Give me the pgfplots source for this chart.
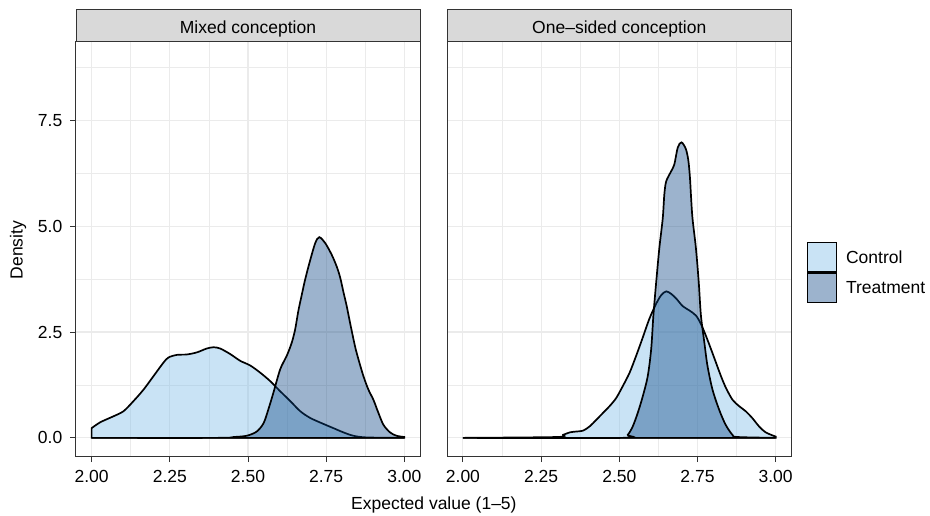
\documentclass[border=0pt]{standalone}
\usepackage{fontspec}
\setmainfont{Liberation Sans}
\usepackage{pgfplots}
\pgfplotsset{compat=1.18}

\definecolor{ctrl}{RGB}{120,185,230}
\definecolor{treat}{RGB}{8,66,129}
\definecolor{gridc}{RGB}{235,235,235}
\definecolor{framec}{RGB}{51,51,51}
\definecolor{stripc}{RGB}{217,217,217}

\newcommand{\txt}{\fontsize{17.5}{20}\selectfont}

\pgfplotsset{
  dens/.style={
    scale only axis, width=344pt, height=414.7pt,
    xmin=1.95, xmax=3.05, ymin=-0.445, ymax=9.35,
    xtick={2,2.25,2.5,2.75,3}, minor xtick={2.125,2.375,2.625,2.875},
    xticklabels={2.00,2.25,2.50,2.75,3.00},
    ytick={0,2.5,5,7.5}, minor ytick={1.25,3.75,6.25,8.75},
    grid=both,
    major grid style={gridc, line width=1.1pt},
    minor grid style={gridc, line width=0.6pt},
    axis line style={framec, line width=1pt},
    tick align=outside, tick pos=left,
    major tick length=5.5pt, minor tick length=0pt,
    tick style={framec, line width=1pt},
    ticklabel style={font=\txt, text=black},
    xticklabel style={inner sep=0pt, yshift=-7.5pt},
    yticklabel style={inner sep=0pt, xshift=-8pt},
  },
  ctrlplot/.style={fill=ctrl, fill opacity=0.4, draw=black, line width=1.7pt, smooth, tension=0.5},
  treatplot/.style={fill=treat, fill opacity=0.4, draw=black, line width=1.7pt, smooth, tension=0.5},
}

\begin{document}
\begin{tikzpicture}[x=1pt,y=1pt]
\useasboundingbox (0,0) rectangle (930,515);

% Mixed conception
\begin{axis}[dens, name=L, at={(76pt,58.3pt)}, anchor=south west,
  yticklabels={0.0,2.5,5.0,7.5}]
\addplot[ctrlplot] coordinates {
(2.000,0.23) (2.028,0.37) (2.070,0.51) (2.102,0.63) (2.134,0.87) (2.166,1.14)
(2.198,1.46) (2.230,1.78) (2.246,1.90) (2.273,1.96) (2.305,1.97) (2.337,2.02)
(2.368,2.11) (2.390,2.14) (2.411,2.11) (2.443,1.98) (2.475,1.82) (2.507,1.71)
(2.539,1.54) (2.571,1.34) (2.603,1.10) (2.635,0.87) (2.667,0.63) (2.699,0.47)
(2.741,0.33) (2.773,0.23) (2.805,0.13) (2.837,0.05) (2.880,0.01) (3.000,0.00)
} \closedcycle;
\addplot[treatplot] coordinates {
(2.000,0.00) (2.400,0.00) (2.454,0.02) (2.496,0.05) (2.528,0.15) (2.550,0.35)
(2.565,0.67) (2.581,1.06) (2.603,1.62) (2.624,1.94) (2.640,2.25) (2.651,2.57)
(2.661,3.00) (2.672,3.38) (2.683,3.75) (2.699,4.20) (2.715,4.60) (2.728,4.74)
(2.747,4.60) (2.768,4.32) (2.784,4.04) (2.795,3.78) (2.805,3.45) (2.816,3.10)
(2.826,2.73) (2.842,2.17) (2.853,1.86) (2.869,1.46) (2.885,1.14) (2.901,0.90)
(2.917,0.59) (2.933,0.31) (2.954,0.13) (2.975,0.05) (3.000,0.02)
} \closedcycle;
\end{axis}

% One-sided conception
\begin{axis}[dens, name=R, at={(447.3pt,58.3pt)}, anchor=south west,
  yticklabels={}, ytick style={draw=none},
  legend style={at={(1.0436,0.5185)}, anchor=north west, draw=none, fill=none,
    inner sep=0pt, row sep=-0.6pt, font=\txt, nodes={inner sep=0pt},
    /tikz/every odd column/.append style={column sep=9pt}},
  legend cell align=left,
  legend image code/.code={\draw[#1, line width=1.6pt] (0pt,-14.5pt) rectangle (29pt,15pt);}]
\addplot[ctrlplot] coordinates {
(2.000,0.00) (2.299,0.02) (2.320,0.07) (2.342,0.13) (2.363,0.15) (2.384,0.17)
(2.405,0.27) (2.427,0.43) (2.448,0.59) (2.469,0.75) (2.490,0.94) (2.511,1.22)
(2.533,1.54) (2.554,1.94) (2.575,2.37) (2.596,2.81) (2.618,3.17) (2.634,3.37)
(2.650,3.46) (2.666,3.40) (2.682,3.29) (2.703,3.11) (2.724,3.01) (2.745,2.89)
(2.761,2.69) (2.777,2.41) (2.793,2.10) (2.809,1.78) (2.825,1.46) (2.841,1.18)
(2.862,0.90) (2.883,0.75) (2.904,0.63) (2.925,0.47) (2.947,0.27) (2.968,0.13)
(3.000,0.03)
} \closedcycle;
\addlegendentry{Control}
\addplot[treatplot] coordinates {
(2.000,0.00) (2.511,0.00) (2.527,0.07) (2.543,0.27) (2.559,0.59) (2.575,0.98)
(2.591,1.46) (2.602,2.10) (2.609,2.89) (2.618,3.68) (2.628,4.48) (2.639,5.19)
(2.644,5.75) (2.650,6.06) (2.666,6.30) (2.676,6.46) (2.687,6.86) (2.699,6.98)
(2.713,6.82) (2.721,6.54) (2.726,6.14) (2.729,5.75) (2.734,5.19) (2.745,4.48)
(2.754,3.68) (2.761,2.89) (2.772,2.25) (2.782,1.70) (2.798,1.14) (2.819,0.67)
(2.840,0.31) (2.862,0.07) (2.878,0.02) (3.000,0.00)
} \closedcycle;
\addlegendentry{Treatment}
\end{axis}

% facet strips
\draw[framec, fill=stripc, line width=1pt] (L.north west) rectangle ([yshift=32pt]L.north east);
\node[font=\txt, anchor=base] at ([yshift=8.3pt]L.north) {Mixed conception};
\draw[framec, fill=stripc, line width=1pt] (R.north west) rectangle ([yshift=32pt]R.north east);
\node[font=\txt, anchor=base] at ([yshift=8.3pt]R.north) {One–sided conception};

% axis titles
\node[font=\txt, rotate=90] at (18,265) {Density};
\node[font=\txt, anchor=base] at (433.9,5.3) {Expected value (1–5)};
\end{tikzpicture}
\end{document}
